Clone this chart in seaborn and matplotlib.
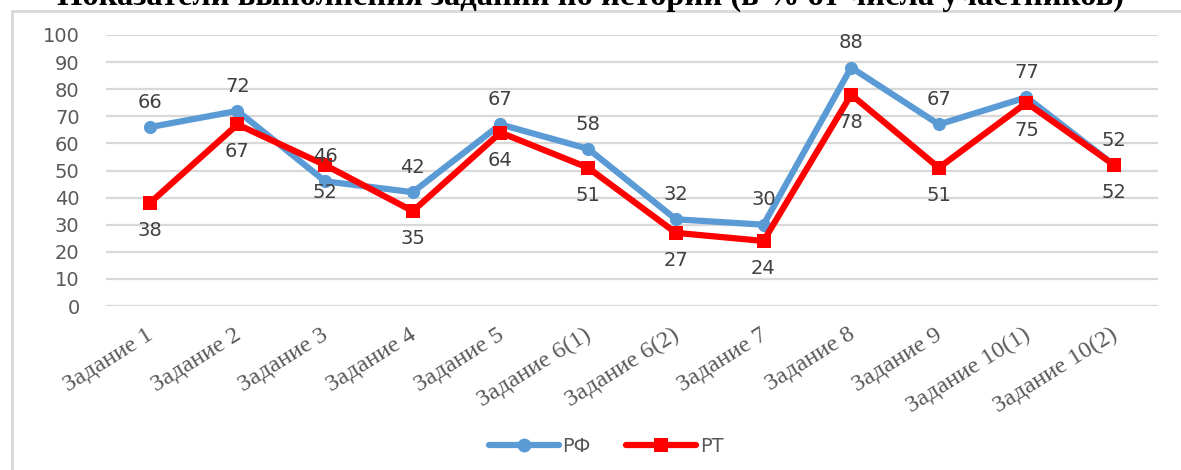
import matplotlib
matplotlib.use("Agg")
import matplotlib.pyplot as plt
from matplotlib.patches import Rectangle
from matplotlib.lines import Line2D
from matplotlib.transforms import ScaledTranslation
import seaborn as sns
import pandas as pd

tasks = ["Задание 1", "Задание 2", "Задание 3", "Задание 4", "Задание 5",
         "Задание 6(1)", "Задание 6(2)", "Задание 7", "Задание 8", "Задание 9",
         "Задание 10(1)", "Задание 10(2)"]
rf = [66, 72, 46, 42, 67, 58, 32, 30, 88, 67, 77, 52]
rt = [38, 67, 52, 35, 64, 51, 27, 24, 78, 51, 75, 52]
series = ["РФ", "РТ"]
colors = {"РФ": "#5B9BD5", "РТ": "#FF0000"}
title = "Показатели выполнения заданий по истории (в % от числа участников)"

df = pd.DataFrame({
    "task": tasks * 2,
    "value": rf + rt,
    "series": [series[0]] * len(tasks) + [series[1]] * len(tasks),
})

sns.set_theme(style="white")
plt.rcParams["font.family"] = ["DejaVu Sans"]

fig = plt.figure(figsize=(11.81, 4.70), dpi=100)
ax = fig.add_axes([106 / 1181, 1 - 306 / 470, (1158 - 106) / 1181, (306 - 35) / 470])

sns.lineplot(data=df, x="task", y="value", hue="series", style="series",
             markers={"РФ": "o", "РТ": "s"}, dashes=False, palette=colors,
             linewidth=4.5, markersize=9.5, markeredgewidth=0, sort=False,
             legend=False, ax=ax)

ax.set_ylim(0, 100)
ax.set_xlim(-0.5, len(tasks) - 0.5)
ax.set_yticks(range(0, 101, 10))
ax.yaxis.grid(True, color="#D9D9D9", linewidth=1.6)
ax.set_axisbelow(True)
for s in ax.spines.values():
    s.set_visible(False)
ax.set_xlabel("")
ax.set_ylabel("")
ax.tick_params(axis="y", labelsize=14, labelcolor="#595959", pad=19, length=0)
ax.tick_params(axis="x", length=0, pad=13)
ax.set_xticks(range(len(tasks)))
ax.set_xticklabels(tasks, rotation=32, ha="right", rotation_mode="anchor",
                   family="Liberation Serif", fontsize=17.5, color="#595959")
shift = ScaledTranslation(-4 / 100, 0, fig.dpi_scale_trans)
for lbl in ax.get_xticklabels():
    lbl.set_transform(lbl.get_transform() + shift)

# value labels: РФ above the points, РТ below
for i, v in enumerate(rf):
    ax.annotate(str(v), (i, v), xytext=(0, 11), textcoords="offset points",
                ha="center", va="bottom", fontsize=14, color="#404040")
for i, v in enumerate(rt):
    ax.annotate(str(v), (i, v), xytext=(0, -13), textcoords="offset points",
                ha="center", va="top", fontsize=14, color="#404040")

# legend
handles = [Line2D([], [], color=colors[s], linewidth=4.5,
                  marker="o" if s == "РФ" else "s", markersize=10,
                  markeredgewidth=0) for s in series]
fig.legend(handles, series, loc="center", bbox_to_anchor=(606 / 1181, 1 - 446 / 470),
           ncol=2, frameon=False, fontsize=14, handlelength=3.6,
           handletextpad=0.2, columnspacing=1.8, labelcolor="#595959")

# chart frame
fig.patches.append(Rectangle((12 / 1181, -0.1), 1.2, 1.1 - 11 / 470,
                             transform=fig.transFigure, fill=False,
                             edgecolor="#D9D9D9", linewidth=2, zorder=0))

fig.text(0.5, 1 - 5 / 470, title, ha="center", va="baseline",
         family="Liberation Serif", fontweight="bold", fontsize=23.5, color="black")

fig.savefig("out.png", dpi=100, facecolor="white")
